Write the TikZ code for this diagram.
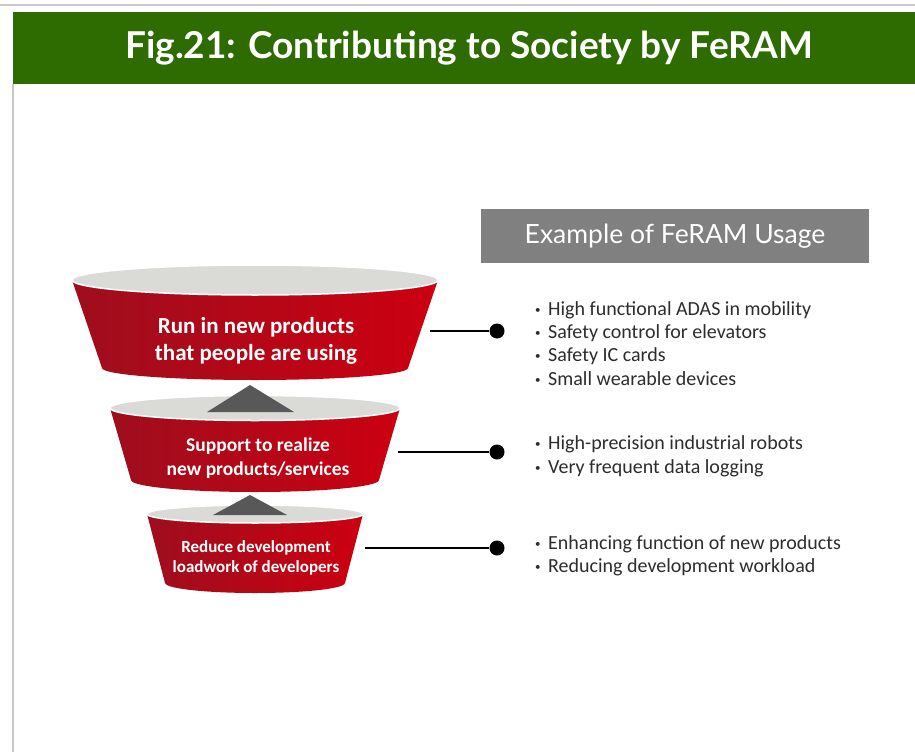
\documentclass[tikz,border=0pt]{standalone}
\usepackage{fontspec}
\setmainfont{Carlito}
\newfontfamily\titlefont{Lato}
\definecolor{hdrgreen}{RGB}{46,107,0}
\definecolor{boxgray}{RGB}{128,128,128}
\definecolor{redL}{RGB}{158,14,30}
\definecolor{redR}{RGB}{204,0,16}
\definecolor{lgray}{RGB}{218,218,215}
\definecolor{trigray}{RGB}{88,88,88}
\definecolor{txtdark}{RGB}{45,45,45}
\definecolor{rulegray}{RGB}{200,200,200}
\newcommand\drawfunnel[7]{%
  \shade[left color=redL, right color=redR]
    (#1-#3,#2) -- (#1-#6,#5)
    .. controls (#1-#6,#5+0.5523*#7) and (#1-0.5523*#6,#5+#7) .. (#1,#5+#7)
    .. controls (#1+0.5523*#6,#5+#7) and (#1+#6,#5+0.5523*#7) .. (#1+#6,#5)
    -- (#1+#3,#2) -- cycle;
  \filldraw[fill=lgray, draw=white, line width=1.5pt] (#1,#2) ellipse [x radius=#3pt, y radius=#4pt];
}
\tikzset{
  dotnode/.style={circle, fill=black, inner sep=0pt, minimum size=15pt},
  conn/.style={line width=2pt, black},
  funtext/.style={align=center, text=white, font=\bfseries\fontsize{23}{27}\selectfont},
  item/.style={anchor=base west, inner sep=0pt, text=txtdark, font=\fontsize{20}{22}\selectfont},
}
\newcommand\bul{\makebox[13pt][l]{\raisebox{1.3pt}{\fontsize{11}{11}\selectfont •}}}
\begin{document}
\begin{tikzpicture}[x=1pt,y=-1pt]
\useasboundingbox (0,0) rectangle (915,752);
\fill[white] (0,0) rectangle (915,752);
\draw[rulegray, line width=2pt] (0,5) -- (915,5);
\fill[hdrgreen] (13,12) rectangle (915,84);
\draw[rulegray, line width=2pt] (13,84) -- (13,752);
\node[text=white, font=\titlefont\bfseries\fontsize{37}{40}\selectfont] (title) at (469,48) {Fig.21: Contributing to Society by FeRAM};

\node[fill=boxgray, minimum width=388pt, minimum height=54pt, inner sep=0pt, text=white, font=\titlefont\fontsize{26.5}{28}\selectfont] (usage) at (675,236) {Example of FeRAM Usage};

% funnels
\drawfunnel{255}{280}{183}{15}{368}{153}{12}
\drawfunnel{255}{408}{145}{12.5}{480}{124}{12}
\fill[trigray] (250,385) -- (294,412) -- (207,412) -- cycle;
\drawfunnel{255}{514}{108}{9}{583}{90}{10}
\fill[trigray] (250,495) -- (287,515) -- (213,515) -- cycle;

\node[funtext] (f1) at (256,341) {Run in new products\\that people are using};
\node[funtext, font=\bfseries\fontsize{19.5}{23.5}\selectfont] (f2) at (258,458) {Support to realize\\new products/services};
\node[funtext, font=\bfseries\fontsize{17}{20.5}\selectfont] (f3) at (256,558) {Reduce development\\loadwork of developers};

% connectors
\coordinate (c1) at (430,331);
\coordinate (c2) at (398,452);
\coordinate (c3) at (365,548);
\node[dotnode] (d1) at (497,331) {};
\node[dotnode] (d2) at (497,452) {};
\node[dotnode] (d3) at (497,548) {};
\draw[conn] (c1) -- (d1);
\draw[conn] (c2) -- (d2);
\draw[conn] (c3) -- (d3);

% lists
\node[item] (a1) at (535,315) {\bul High functional ADAS in mobility};
\node[item] (a2) at (535,338) {\bul Safety control for elevators};
\node[item] (a3) at (535,361) {\bul Safety IC cards};
\node[item] (a4) at (535,385) {\bul Small wearable devices};
\node[item] (b1) at (535,449) {\bul High-precision industrial robots};
\node[item] (b2) at (535,473) {\bul Very frequent data logging};
\node[item] (e1) at (535,549) {\bul Enhancing function of new products};
\node[item] (e2) at (535,572) {\bul Reducing development workload};
\end{tikzpicture}
\end{document}
